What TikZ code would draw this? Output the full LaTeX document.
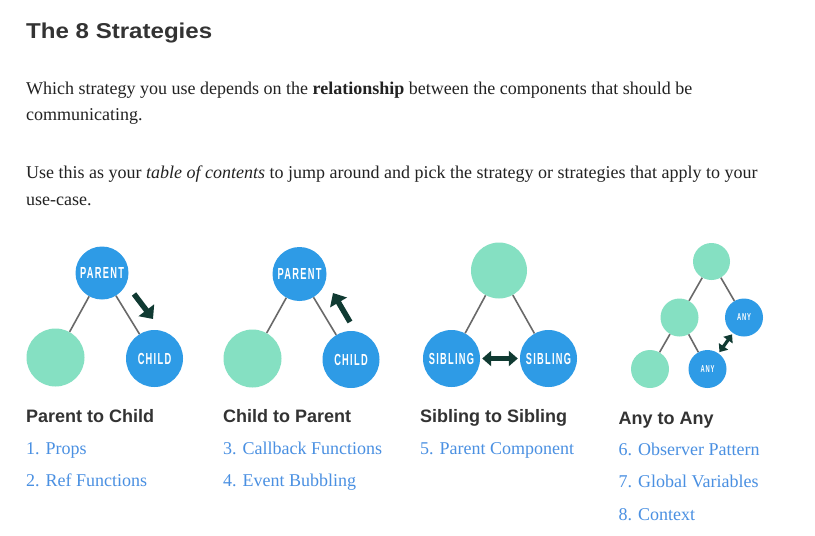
\documentclass[tikz,border=0pt]{standalone}
\usepackage{fontspec}
\setmainfont{Liberation Serif}
\newfontfamily\headfont{Liberation Sans}
\newfontfamily\titlefont[FakeStretch=1.12]{Liberation Sans}
\newfontfamily\labfont[FakeStretch=0.58,LetterSpace=8]{Liberation Sans}
\usetikzlibrary{arrows.meta}
\definecolor{nodeblue}{RGB}{46,155,230}
\definecolor{mint}{RGB}{133,224,194}
\definecolor{arrowdark}{RGB}{16,58,50}
\definecolor{edgegray}{RGB}{105,105,105}
\definecolor{linkblue}{RGB}{74,144,226}
\definecolor{textdark}{RGB}{34,34,34}
\definecolor{headdark}{RGB}{51,51,51}
\begin{document}
\begin{tikzpicture}[x=1pt,y=-1pt,
  bluenode/.style={circle,fill=nodeblue,inner sep=0pt,minimum size=#1,text=white,
    font=\labfont\bfseries\fontsize{16}{16}\selectfont},
  smallblue/.style={circle,fill=nodeblue,inner sep=0pt,minimum size=#1,text=white,
    font=\labfont\bfseries\fontsize{10}{10}\selectfont},
  mintnode/.style={circle,fill=mint,inner sep=0pt,minimum size=#1},
  edgeline/.style={draw=edgegray,line width=1.6pt},
  bigarrow/.style={draw=arrowdark,line width=5.5pt,-{Triangle[length=11pt,width=19pt]}},
  dblarrow/.style={draw=arrowdark,line width=5pt,{Triangle[length=9pt,width=15pt]}-{Triangle[length=9pt,width=15pt]},shorten <=2pt,shorten >=2pt},
  smalldbl/.style={draw=arrowdark,line width=3.2pt,{Triangle[length=7pt,width=11pt]}-{Triangle[length=7pt,width=11pt]},shorten <=1.5pt,shorten >=1.5pt},
  title/.style={anchor=base west,inner sep=0pt,text=headdark,font=\titlefont\bfseries\fontsize{21.5}{21.5}\selectfont},
  body/.style={anchor=base west,inner sep=0pt,text=textdark,font=\fontsize{18}{18}\selectfont},
  caption/.style={anchor=base west,inner sep=0pt,text=headdark,font=\headfont\bfseries\fontsize{18}{18}\selectfont},
  linktext/.style={anchor=base west,inner sep=0pt,text=linkblue,font=\fontsize{18}{18}\selectfont}
]
\useasboundingbox[fill=white] (0,0) rectangle (815,536);

% texts
\node[title] (ttl) at (26,38.5) {The 8 Strategies};
\node[body] (b1) at (26,94) {Which strategy you use depends on the \textbf{relationship} between the components that should be};
\node[body] (b2) at (26,120) {communicating.};
\node[body] (b3) at (26,178.5) {Use this as your \textit{table of contents} to jump around and pick the strategy or strategies that apply to your};
\node[body] (b4) at (26,205) {use-case.};

% diagram 1
\node[bluenode=53] (p1) at (102,273) {PARENT};
\node[mintnode=58] (g1) at (55.5,357.5) {};
\node[bluenode=57] (c1) at (154.5,358.5) {CHILD};
\draw[edgeline] (p1) -- (g1);
\draw[edgeline] (p1) -- (c1);
\coordinate (a1s) at (134,294);
\coordinate (a1e) at (153,319);
\draw[bigarrow] (a1s) -- (a1e);

% diagram 2
\node[bluenode=54] (p2) at (299.5,274) {PARENT};
\node[mintnode=58] (g2) at (252.5,358.5) {};
\node[bluenode=57] (c2) at (351,359.5) {CHILD};
\draw[edgeline] (p2) -- (g2);
\draw[edgeline] (p2) -- (c2);
\coordinate (a2s) at (350,322);
\coordinate (a2e) at (333,293);
\draw[bigarrow] (a2s) -- (a2e);

% diagram 3
\node[mintnode=56] (g3) at (499,270.5) {};
\node[bluenode=57] (s3l) at (451.5,358.5) {SIBLING};
\node[bluenode=57] (s3r) at (548.5,358.5) {SIBLING};
\draw[edgeline] (g3) -- (s3l);
\draw[edgeline] (g3) -- (s3r);
\draw[dblarrow] (s3l) -- (s3r);

% diagram 4
\node[mintnode=37] (t4) at (711.5,261.5) {};
\node[mintnode=38] (m4) at (679.5,317.5) {};
\node[smallblue=38] (a4r) at (744,317.5) {ANY};
\node[mintnode=38] (b4l) at (650,369) {};
\node[smallblue=38] (a4b) at (707.5,369) {ANY};
\draw[edgeline] (t4) -- (m4);
\draw[edgeline] (t4) -- (a4r);
\draw[edgeline] (m4) -- (b4l);
\draw[edgeline] (m4) -- (a4b);
\draw[smalldbl] (a4b) -- (a4r);

% captions
\node[caption] (h1) at (26,422.7) {Parent to Child};
\node[caption] (h2) at (223,422.7) {Child to Parent};
\node[caption] (h3) at (420,422.7) {Sibling to Sibling};
\node[caption] (h4) at (618.5,424) {Any to Any};

\node[linktext] (l1) at (26,454) {1. Props};
\node[linktext] (l2) at (26,486.7) {2. Ref Functions};
\node[linktext] (l3) at (223,454) {3. Callback Functions};
\node[linktext] (l4) at (223,486.7) {4. Event Bubbling};
\node[linktext] (l5) at (420,454) {5. Parent Component};
\node[linktext] (l6) at (618.5,455) {6. Observer Pattern};
\node[linktext] (l7) at (618.5,487.3) {7. Global Variables};
\node[linktext] (l8) at (618.5,520) {8. Context};
\end{tikzpicture}
\end{document}
